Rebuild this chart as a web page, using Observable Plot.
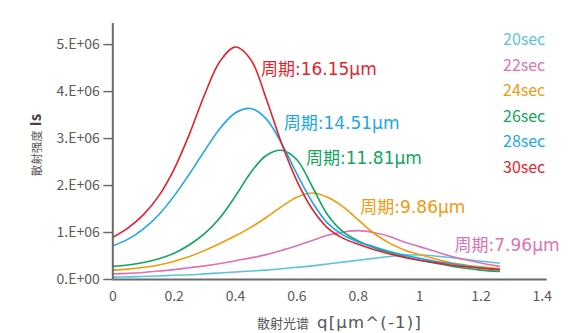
<!DOCTYPE html>
<html><head><meta charset="utf-8">
<script src="https://cdn.jsdelivr.net/npm/d3@7"></script>
<script src="https://cdn.jsdelivr.net/npm/@observablehq/plot@0.6"></script>
<style>
body{margin:0;background:#fff;}
#wrap{position:relative;width:582px;height:333px;font-family:"Noto Sans CJK JP","Noto Sans",sans-serif;}
#legend{position:absolute;left:503px;top:26px;font-size:16px;line-height:25.5px;}
</style></head>
<body><div id="wrap"><div id="legend"></div></div>
<script>
// scattering vector q [μm^-1]
const q = [0,0.05,0.1,0.15,0.2,0.25,0.3,0.35,0.4,0.45,0.5,0.55,0.6,0.65,0.7,0.75,0.8,0.85,0.9,0.95,1.0,1.05,1.1,1.15,1.2,1.26];
// intensity, in units of 1E+06
const s20 = [0.05,0.055,0.065,0.075,0.09,0.10,0.12,0.14,0.16,0.18,0.20,0.23,0.26,0.29,0.33,0.37,0.41,0.45,0.49,0.52,0.52,0.50,0.47,0.43,0.39,0.35];
const s22 = [0.12,0.13,0.15,0.18,0.21,0.25,0.29,0.34,0.40,0.46,0.53,0.62,0.72,0.83,0.94,1.01,1.04,1.00,0.92,0.80,0.70,0.60,0.50,0.42,0.35,0.28];
const s24 = [0.20,0.22,0.26,0.31,0.39,0.49,0.62,0.77,0.93,1.11,1.32,1.55,1.75,1.84,1.75,1.55,1.27,0.99,0.78,0.63,0.53,0.44,0.36,0.31,0.27,0.23];
const s26 = [0.28,0.31,0.36,0.44,0.56,0.74,0.98,1.32,1.78,2.28,2.64,2.75,2.55,1.98,1.38,1.02,0.82,0.68,0.58,0.49,0.41,0.35,0.29,0.24,0.20,0.17];
const s28 = [0.72,0.86,1.08,1.38,1.78,2.25,2.75,3.22,3.55,3.64,3.42,2.90,2.25,1.65,1.20,0.95,0.80,0.70,0.60,0.52,0.45,0.39,0.34,0.29,0.25,0.21];
const s30 = [0.90,1.10,1.38,1.78,2.35,3.10,3.95,4.65,4.95,4.68,3.85,2.90,2.10,1.50,1.10,0.88,0.75,0.64,0.55,0.47,0.41,0.36,0.31,0.27,0.24,0.21];

const seriesNames = ["20sec","22sec","24sec","26sec","28sec","30sec"];
const seriesColors = ["#5cc3dd","#dd72b4","#f39a0c","#10a65b","#1ba7e8","#e61f2d"];
const seriesValues = [s20,s22,s24,s26,s28,s30];

// period annotations
const annoText = ["周期:16.15μm","周期:14.51μm","周期:11.81μm","周期:9.86μm","周期:7.96μm"];
const annoSeries = ["30sec","28sec","26sec","24sec","22sec"];
const annoQ = [0.483,0.557,0.630,0.807,1.114];
const annoV = [4.47,3.31,2.57,1.54,0.72];

const xTicks = [0,0.2,0.4,0.6,0.8,1,1.2,1.4];
const xTickLabels = ["0","0.2","0.4","0.6","0.8","1","1.2","1.4"];
const yTicks = [0,1,2,3,4,5];
const yTickLabels = ["0.E+00","1.E+06","2.E+06","3.E+06","4.E+06","5.E+06"];

const rows = [];
seriesNames.forEach((name,k)=>q.forEach((qq,i)=>rows.push({series:name,q:qq,v:seriesValues[k][i]})));
const annos = annoText.map((t,i)=>({text:t,series:annoSeries[i],q:annoQ[i],v:annoV[i]}));

const axisColor = "#6b6b6b";
const font = '"Noto Sans CJK JP","Noto Sans",sans-serif';
const wideFont = '"DejaVu Sans","Noto Sans CJK JP",sans-serif';

const chart = Plot.plot({
  width:582, height:333,
  marginLeft:112.3, marginRight:35.3, marginTop:23, marginBottom:54,
  style:{fontFamily:font, fontSize:"14px", color:"#5a5a5a", background:"#fff"},
  x:{domain:[0,1.416]},
  y:{domain:[0,5.45]},
  color:{domain:seriesNames, range:seriesColors},
  marks:[
    Plot.axisY({ticks:yTicks, tickFormat:d=>yTickLabels[yTicks.indexOf(d)], tickSize:9, tickPadding:4, stroke:axisColor, strokeWidth:1.5, label:null, fontSize:14}),
    Plot.axisX({ticks:xTicks, tickFormat:d=>xTickLabels[xTicks.indexOf(d)], tickSize:0, tickPadding:12, label:null, fontSize:14}),
    Plot.line(rows,{x:"q",y:"v",z:"series",stroke:"series",curve:"catmull-rom",strokeWidth:1.6}),
    Plot.ruleX([0],{stroke:axisColor,strokeWidth:2}),
    Plot.ruleY([0],{stroke:axisColor,strokeWidth:2}),
    Plot.text(annos,{x:"q",y:"v",text:"text",fill:"series",textAnchor:"start",fontSize:17,fontFamily:wideFont})
  ]
});
document.getElementById("wrap").prepend(chart);

const svg = d3.select(chart);
// x axis title
const xt = svg.append("text").attr("x",257).attr("y",328).attr("text-anchor","start")
  .attr("fill","#555").attr("font-family",font);
xt.append("tspan").attr("font-size",13).text("散射光谱");
xt.append("tspan").attr("font-size",16.5).attr("dx",8).attr("font-family",wideFont).attr("letter-spacing",1.2).text("q[μm^(-1)]");
// y axis title
const yt = svg.append("text").attr("transform","translate(41,145) rotate(-90)").attr("text-anchor","middle")
  .attr("fill","#555").attr("font-family",font);
yt.append("tspan").attr("font-size",11.5).text("散射强度");
yt.append("tspan").attr("font-size",15).attr("dx",4).attr("font-weight",600).attr("fill","#444").text("Is");

// legend
const lg = document.getElementById("legend");
seriesNames.forEach((n,i)=>{const d=document.createElement("div");d.textContent=n;d.style.color=seriesColors[i];lg.appendChild(d);});
</script>
</body></html>
